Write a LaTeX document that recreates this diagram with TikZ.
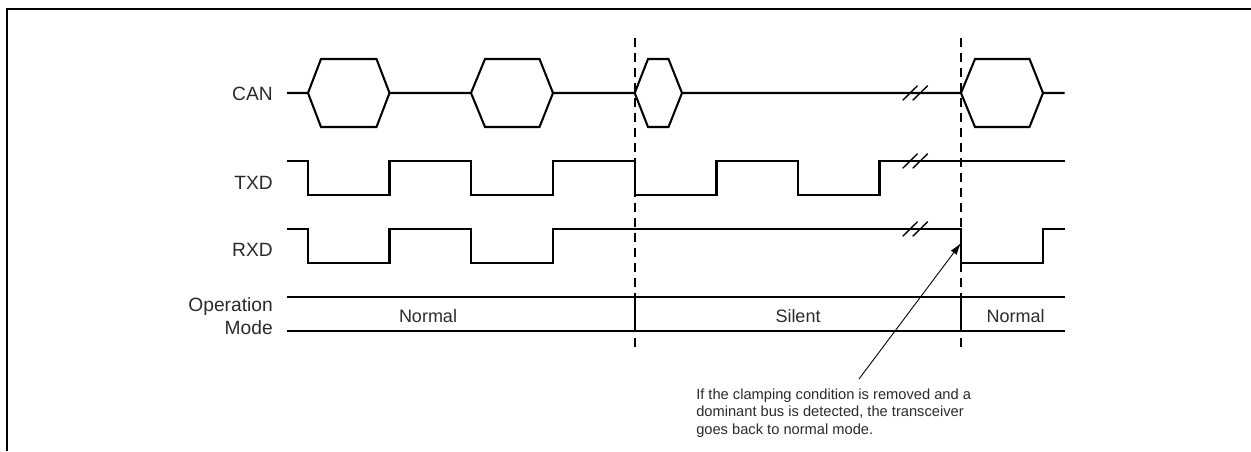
\documentclass[tikz,border=0pt]{standalone}
\usepackage{fontspec}
\setmainfont{Liberation Sans}
\usetikzlibrary{arrows.meta}
\definecolor{txt}{HTML}{2B2B2B}
\tikzset{
  x=0.75pt,y=-0.75pt,
  wave/.style={draw=black,line width=1.55pt,line join=miter},
  frameline/.style={draw=black,line width=1.5pt},
  guide/.style={draw=black,line width=1pt,dash pattern=on 7pt off 4.25pt},
  brk/.style={draw=black,line width=1pt},
  lab/.style={font=\fontsize{14.4pt}{17pt}\selectfont,text=txt,inner sep=0pt,anchor=base east},
  modelab/.style={font=\fontsize{13.5pt}{16pt}\selectfont,text=txt,inner sep=0pt,anchor=base},
  note/.style={font=\fontsize{11pt}{13pt}\selectfont,text=txt,inner sep=0pt,anchor=base west},
  lead/.style={draw=black,line width=0.7pt,-{Latex[length=9pt,width=5.5pt]}}
}
\begin{document}
\begin{tikzpicture}
\useasboundingbox (0,0) rectangle (1251,451);
% frame
\draw[frameline] (7,451) -- (7,9) -- (1251,9);
% guides
\coordinate (g1t) at (635,38); \coordinate (g1b) at (635,353);
\coordinate (g2t) at (961,38);   \coordinate (g2b) at (961,353);
\draw[guide] (g1t) -- (g1b);
\draw[guide] (g2t) -- (g2b);
% CAN
\draw[wave] (287,93) -- (308,93) -- (321,59) -- (376.5,59) -- (389.5,93) -- (471,93) -- (485,59) -- (539.5,59) -- (553,93) -- (634.7,93)
  -- (648,59) -- (668.5,59) -- (682,93) -- (961,93) -- (975,59) -- (1029.5,59) -- (1043,93) -- (1064.5,93);
\draw[wave] (308,93) -- (321,127) -- (376.5,127) -- (389.5,93);
\draw[wave] (471,93) -- (485,127) -- (539.5,127) -- (553,93);
\draw[wave] (634.7,93) -- (648,127) -- (668.5,127) -- (682,93);
\draw[wave] (961,93) -- (975,127) -- (1029.5,127) -- (1043,93);
% TXD
\draw[wave] (287,161) -- (308,161) -- (308,195) -- (389.5,195) -- (389.5,161) -- (471,161) -- (471,195) -- (553,195) -- (553,161) -- (634.7,161) -- (634.7,195) -- (716.5,195) -- (716.5,161) -- (798,161) -- (798,195) -- (879.5,195) -- (879.5,161) -- (1064.5,161);
% RXD
\draw[wave] (287,229) -- (308,229) -- (308,263) -- (389.5,263) -- (389.5,229) -- (471,229) -- (471,263) -- (553,263) -- (553,229) -- (961,229) -- (961,263) -- (1042.7,263) -- (1042.7,229) -- (1064.5,229);
% Operation mode
\draw[wave] (287,297) -- (1064.5,297);
\draw[wave] (287,331) -- (1064.5,331);
\draw[wave] (634.7,297) -- (634.7,331);
\draw[wave] (961,297) -- (961,331);
% breaks
\foreach \yy in {93,161,229}{
  \draw[brk] (902.7,\yy+7.3) -- (917.5,\yy-7.3);
  \draw[brk] (912.7,\yy+7.3) -- (927.7,\yy-7.3);
}
% labels
\node[lab] (can) at (273,100) {CAN};
\node[lab] (txd) at (273,189) {TXD};
\node[lab] (rxd) at (273,256.7) {RXD};
\node[lab] (op) at (273,311.7) {Operation};
\node[lab] (md) at (273,334) {Mode};
\node[modelab] (m1) at (428,322.7) {Normal};
\node[modelab] (m2) at (798,322.7) {Silent};
\node[modelab] (m3) at (1015.5,322.7) {Normal};
\node[note] (n1) at (696,399) {If the clamping condition is removed and a};
\node[note] (n2) at (696,416.7) {dominant bus is detected, the transceiver};
\node[note] (n3) at (696,434) {goes back to normal mode.};
\coordinate (as) at (859,379);
\coordinate (ae) at (961,243);
\draw[lead] (as) -- (ae);
\end{tikzpicture}
\end{document}
